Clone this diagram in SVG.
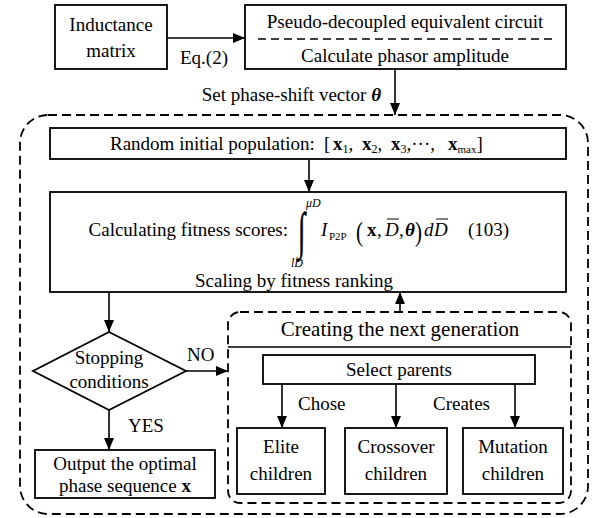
<svg xmlns="http://www.w3.org/2000/svg" width="600" height="518" viewBox="0 0 600 518">
<defs>
<marker id="arr" markerWidth="12" markerHeight="10" refX="12" refY="5" orient="auto" markerUnits="userSpaceOnUse">
<path d="M0,0 L12,5 L0,10 Z" fill="#000"/>
</marker>
<style>
text{font-family:"Liberation Serif","Times New Roman",serif;font-size:19px;fill:#000}
.c{text-anchor:middle}
.box{fill:#fff;stroke:#000;stroke-width:1.8}
.dash{fill:none;stroke:#000;stroke-width:1.8;stroke-dasharray:9 5}
.ln{fill:none;stroke:#000;stroke-width:1.6}
.ov{stroke:#000;stroke-width:1}
.b{font-weight:bold}
.i{font-style:italic}
.sm{font-size:12px}
.xs{font-size:11px}
.big{font-size:21px}
</style>
</defs>
<rect width="600" height="518" fill="#fff"/>

<g id="outer"><rect class="dash" x="20" y="115" width="568" height="399" rx="28"/></g>

<g id="inductance">
<rect class="box" x="55" y="5" width="112" height="64"/>
<text class="c" x="111" y="31">Inductance</text>
<text class="c" x="111" y="57">matrix</text>
</g>

<g id="circuit">
<rect class="box" x="245" y="5" width="321" height="64"/>
<line x1="258" y1="39" x2="553" y2="39" stroke="#000" stroke-width="1.4" stroke-dasharray="8 5"/>
<text class="c" x="405" y="28">Pseudo-decoupled equivalent circuit</text>
<text class="c" x="405" y="62">Calculate phasor amplitude</text>
</g>

<g id="random">
<rect class="box" x="50" y="128" width="516" height="31"/>
<text x="110" y="150">Random initial population:</text>
<text x="324" y="150">[</text>
<text x="333" y="150"><tspan class="b">x</tspan><tspan class="sm" dy="3">1</tspan><tspan dy="-3">,</tspan></text>
<text x="362" y="150"><tspan class="b">x</tspan><tspan class="sm" dy="3">2</tspan><tspan dy="-3">,</tspan></text>
<text x="391" y="150"><tspan class="b">x</tspan><tspan class="sm" dy="3">3</tspan><tspan dy="-3">,···,</tspan></text>
<text x="448" y="150"><tspan class="b">x</tspan><tspan class="xs" dy="3">max</tspan><tspan dy="-3">]</tspan></text>
</g>

<g id="fitness">
<rect class="box" x="50" y="192" width="516" height="100"/>
<text x="288" y="236" text-anchor="end">Calculating fitness scores:</text>
<text transform="translate(298 248) scale(0.78 1.5)" style="font-size:34px" stroke="#000" stroke-width="0.4">∫</text>
<text class="i sm" x="306" y="207">μD</text>
<text class="i sm" x="291" y="267">lD</text>
<text class="i" x="321" y="236">I</text>
<text class="xs" x="329" y="240">P2P</text>
<text transform="translate(356 241) scale(0.75 1)" style="font-size:28px">(</text>
<text class="b" x="367" y="236">x</text>
<text x="377" y="236">,</text>
<text class="i" x="385" y="236">D</text>
<line class="ov" x1="387" y1="219" x2="399" y2="219"/>
<text x="399" y="236">,</text>
<text class="b i" x="405" y="236">θ</text>
<text transform="translate(415 241) scale(0.75 1)" style="font-size:28px">)</text>
<text class="i" x="424" y="236">d</text>
<text class="i" x="434" y="236">D</text>
<line class="ov" x1="436" y1="219" x2="448" y2="219"/>
<text x="468" y="236">(103)</text>
<text class="c" x="294" y="287">Scaling by fitness ranking</text>
</g>

<g id="stopping">
<polygon class="box" points="109,332 186,371 109,410 33,371"/>
<text class="c" x="109" y="364">Stopping</text>
<text class="c" x="109" y="388">conditions</text>
</g>

<g id="output">
<rect class="box" x="35" y="450" width="180" height="48"/>
<text class="c" x="125" y="470">Output the optimal</text>
<text class="c" x="125" y="492">phase sequence <tspan class="b">x</tspan></text>
</g>

<g id="nextgen">
<rect class="dash" x="228" y="312" width="343" height="191" rx="12"/>
<line x1="228" y1="347" x2="571" y2="347" stroke="#000" stroke-width="1.6"/>
<text class="c big" x="400" y="336">Creating the next generation</text>
</g>

<g id="select">
<rect class="box" x="263" y="355" width="272" height="29"/>
<text class="c" x="399" y="376">Select parents</text>
</g>

<g id="elite">
<rect class="box" x="237" y="428" width="88" height="66"/>
<text class="c" x="281" y="453">Elite</text>
<text class="c" x="281" y="480">children</text>
</g>
<g id="crossover">
<rect class="box" x="345" y="428" width="102" height="66"/>
<text class="c" x="396" y="453">Crossover</text>
<text class="c" x="396" y="480">children</text>
</g>
<g id="mutation">
<rect class="box" x="463" y="428" width="100" height="66"/>
<text class="c" x="513" y="453">Mutation</text>
<text class="c" x="513" y="480">children</text>
</g>

<g id="connectors">
<line class="ln" x1="167" y1="38" x2="245" y2="38" marker-end="url(#arr)"/>
<text x="180" y="64">Eq.(2)</text>
<line class="ln" x1="395" y1="69" x2="395" y2="115" marker-end="url(#arr)"/>
<text x="381" y="101" text-anchor="end">Set phase-shift vector <tspan class="b i">θ</tspan></text>
<line class="ln" x1="309" y1="159" x2="309" y2="192" marker-end="url(#arr)"/>
<line class="ln" x1="109" y1="292" x2="109" y2="332" marker-end="url(#arr)"/>
<line class="ln" x1="400" y1="312" x2="400" y2="292" marker-end="url(#arr)"/>
<line class="ln" x1="186" y1="371" x2="228" y2="371" marker-end="url(#arr)"/>
<text x="187" y="361">NO</text>
<line class="ln" x1="109" y1="410" x2="109" y2="450" marker-end="url(#arr)"/>
<text x="128" y="432">YES</text>
<line class="ln" x1="282" y1="384" x2="282" y2="428" marker-end="url(#arr)"/>
<line class="ln" x1="396" y1="384" x2="396" y2="428" marker-end="url(#arr)"/>
<line class="ln" x1="515" y1="384" x2="515" y2="428" marker-end="url(#arr)"/>
<text x="298" y="410">Chose</text>
<text x="433" y="410">Creates</text>
</g>
</svg>
